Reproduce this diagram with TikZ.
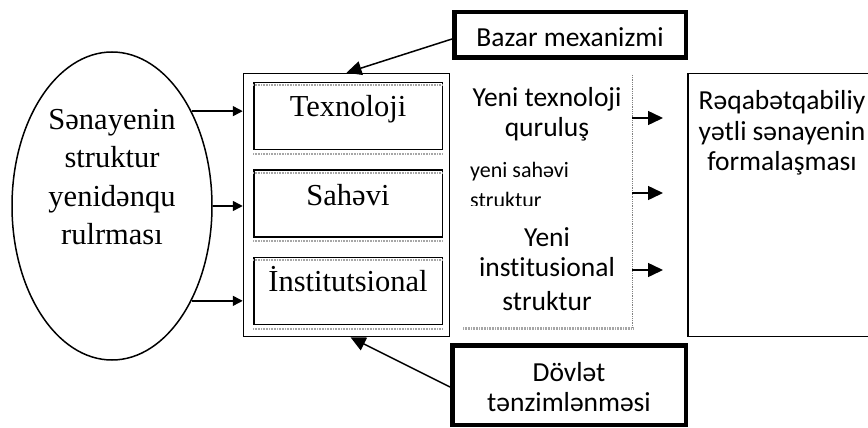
\documentclass[tikz,border=0pt]{standalone}
\usepackage{fontspec}
\setmainfont{Liberation Serif}
\newfontfamily\calfont[Ligatures=CommonOff]{Carlito}
\usetikzlibrary{arrows.meta,shapes.geometric}
\begin{document}
\begin{tikzpicture}[x=1pt,y=-1pt,
  box/.style={draw, rectangle, line width=1.5pt, inner sep=0},
  thickbox/.style={draw, rectangle, line width=4.5pt, inner sep=0},
  serif/.style={anchor=base, inner sep=0, font=\fontsize{30.5}{38}\selectfont},
  sans/.style={anchor=base, inner sep=0, font=\calfont\fontsize{27.5}{30}\selectfont},
  smallsans/.style={anchor=base west, inner sep=0, font=\calfont\fontsize{22}{30}\selectfont},
  arr/.style={line width=1.5pt, -{Triangle[length=10pt,width=10pt]}},
  bigarr/.style={line width=1.5pt, -{Triangle[length=15pt,width=14pt]}},
  grayline/.style={draw=gray!70, line width=1.6pt, dash pattern=on 1pt off 0.6pt}]
\useasboundingbox (0,0) rectangle (868,428);

% left ellipse
\node[draw, ellipse, line width=1.5pt, minimum width=200pt, minimum height=308pt, inner sep=0] (ell) at (112,206) {};
\node[serif] (e1) at (112,129) {Sənayenin};
\node[serif] (e2) at (112,167) {struktur};
\node[serif] (e3) at (112,206) {yenidənqu};
\node[serif] (e4) at (112,244) {rulrması};

% outer box with inner boxes
\node[box, minimum width=206pt, minimum height=263pt] (outer) at (346.5,205) {};
\node[box, minimum width=188.5pt, minimum height=67pt] (b1) at (348,116) {};
\node[box, minimum width=188.5pt, minimum height=67pt] (b2) at (348,203.5) {};
\node[box, minimum width=188.5pt, minimum height=67pt] (b3) at (348,291) {};
\foreach \b in {b1,b2,b3}{
  \draw[grayline] ([yshift=-3.5pt]\b.north west) -- ([yshift=-3.5pt]\b.north east);
  \draw[grayline] ([yshift=-3.5pt]\b.south west) -- ([yshift=-3.5pt]\b.south east);
}
\node[serif] (t1) at (348,117) {Texnoloji};
\node[serif] (t2) at (348,205) {Sahəvi};
\node[serif] (t3) at (348,291.5) {İnstitutsional};

% arrows ellipse -> outer box
\draw[arr] (ell.50) -- (ell.50 -| outer.west);
\draw[arr] (ell.0) -- (ell.0 -| outer.west);
\draw[arr] (ell.-50) -- (ell.-50 -| outer.west);

% middle column
\node[sans] (m1a) at (547,106.7) {Yeni texnoloji};
\node[sans] (m1b) at (547,136.7) {quruluş};
\begin{scope}
  \clip (455,150) rectangle (631,205);
  \node[smallsans] (m2a) at (470,177.3) {yeni sahəvi};
  \node[smallsans] (m2b) at (470,207.5) {struktur};
\end{scope}
\node[sans] (m3a) at (547,246.7) {Yeni};
\node[sans] (m3b) at (547,276.7) {institusional};
\node[sans] (m3c) at (547,310) {struktur};
\draw[draw=gray, line width=0.8pt, densely dotted] (632,75) -- (632,328);
\draw[draw=gray!70, line width=3pt, dash pattern=on 1pt off 0.6pt] (463,328) -- (633,328);

\coordinate (s1) at (632,118); \coordinate (f1) at (663,118);
\coordinate (s2) at (632,193); \coordinate (f2) at (663,193);
\coordinate (s3) at (632,270); \coordinate (f3) at (663,270);
\draw[bigarr] (s1) -- (f1);
\draw[bigarr] (s2) -- (f2);
\draw[bigarr] (s3) -- (f3);

% right box
\node[box, minimum width=200pt, minimum height=263pt] (rbox) at (787.75,205) {};
\node[sans] (r1) at (782,110) {Rəqabətqabiliy};
\node[sans] (r2) at (782,140) {yətli sənayenin};
\node[sans] (r3) at (782,170) {formalaşması};

% top box
\node[thickbox, minimum width=231.5pt, minimum height=45.5pt] (baz) at (570,35) {};
\node[sans] (bazt) at (570,46.7) {Bazar mexanizmi};
\draw[bigarr] ([yshift=-4pt]baz.west) -- (outer.north);

% bottom box
\node[thickbox, minimum width=233.5pt, minimum height=79.5pt] (dov) at (569,385) {};
\node[sans] (dova) at (569,381.7) {Dövlət};
\node[sans] (dovb) at (569,411.7) {tənzimlənməsi};
\draw[bigarr] ([yshift=-2pt]dov.west) -- ([xshift=4pt]outer.south);
\end{tikzpicture}
\end{document}
